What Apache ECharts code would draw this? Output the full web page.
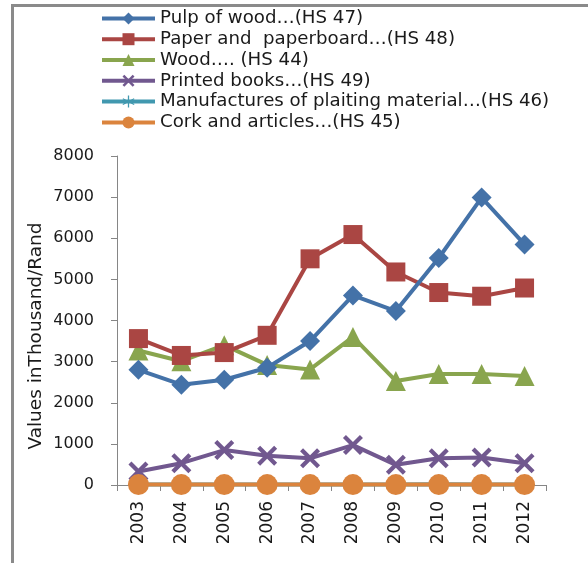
<!DOCTYPE html>
<html>
<head>
<meta charset="utf-8">
<script src="https://cdn.jsdelivr.net/npm/echarts@6/dist/echarts.min.js"></script>
<style>
html,body{margin:0;padding:0;background:#fff;}
#chart{width:588px;height:563px;}
</style>
</head>
<body>
<div id="chart"></div>
<script>
const years = ['2003','2004','2005','2006','2007','2008','2009','2010','2011','2012'];
const pulpOfWood = [2800, 2440, 2560, 2850, 3500, 4610, 4230, 5520, 6990, 5850];
const paperAndPaperboard = [3560, 3150, 3220, 3640, 5500, 6090, 5180, 4680, 4590, 4790];
const wood = [3270, 3010, 3400, 2920, 2810, 3600, 2530, 2700, 2700, 2650];
const printedBooks = [330, 530, 850, 710, 650, 970, 490, 650, 670, 530];
const plaitingMaterial = [10, 10, 10, 10, 10, 10, 10, 20, 10, 10];
const corkArticles = [10, 10, 10, 10, 10, 10, 10, 10, 10, 10];
const seriesNames = [
  'Pulp of wood\u2026(HS 47)',
  'Paper and  paperboard\u2026(HS 48)',
  'Wood\u2026. (HS 44)',
  'Printed books\u2026(HS 49)',
  'Manufactures of plaiting material\u2026(HS 46)',
  'Cork and articles\u2026(HS 45)'
];
const yTicks = [0, 1000, 2000, 3000, 4000, 5000, 6000, 7000, 8000];
const yTitle = 'Values inThousand/Rand';

const colors = ['#4472A8', '#AA4643', '#89A54E', '#71588F', '#4198AF', '#DB843D'];
const xPath = 'path://M0,1.5L1.5,0L5,3.5L8.5,0L10,1.5L6.5,5L10,8.5L8.5,10L5,6.5L1.5,10L0,8.5L3.5,5Z';
const starPath = 'path://M4.5,0L5.5,0L5.5,4.3L9.2,2.2L9.7,3L6,5L9.7,7L9.2,7.8L5.5,5.7L5.5,10L4.5,10L4.5,5.7L0.8,7.8L0.3,7L4,5L0.3,3L0.8,2.2L4.5,4.3Z';

const dataSets = [pulpOfWood, paperAndPaperboard, wood, printedBooks, plaitingMaterial, corkArticles];
const symbols = ['diamond', 'rect', 'triangle', xPath, starPath, 'circle'];
const sizes = [20, 19, 20, 20, 14, 21];
const FONT = 'DejaVu Sans';

const chart = echarts.init(document.getElementById('chart'));
chart.setOption({
  animation: false,
  backgroundColor: '#ffffff',
  color: colors,
  graphic: [{
    type: 'rect',
    shape: {x: 12.5, y: 5.5, width: 600, height: 600},
    style: {fill: 'none', stroke: '#8a8a8a', lineWidth: 3},
    silent: true,
    z: -10
  }, {
    type: 'text',
    x: 36,
    y: 336,
    rotation: Math.PI / 2,
    style: {text: yTitle, fontFamily: FONT, fontSize: 18.5, fill: '#1a1a1a', align: 'center', verticalAlign: 'middle'},
    silent: true
  }],
  legend: {
    orient: 'vertical',
    left: 100,
    top: 8,
    itemWidth: 53,
    itemHeight: 15,
    itemGap: 0,
    padding: 0,
    lineStyle: {width: 4},
    textStyle: {fontFamily: FONT, fontSize: 18.2, color: '#1a1a1a', lineHeight: 20.8, padding: [0, 0, 0, 0]},
    data: seriesNames
  },
  grid: {left: 117, right: 42, top: 156, bottom: 78, containLabel: false},
  xAxis: {
    type: 'category',
    data: years,
    boundaryGap: true,
    axisLine: {lineStyle: {color: '#868686', width: 1}},
    axisTick: {show: true, alignWithLabel: false, length: 6, lineStyle: {color: '#868686'}},
    axisLabel: {rotate: 90, fontFamily: FONT, fontSize: 17, color: '#1a1a1a', margin: 16, interval: 0},
    splitLine: {show: false}
  },
  yAxis: {
    type: 'value',
    min: 0,
    max: 8000,
    interval: 1000,
    axisLine: {show: true, lineStyle: {color: '#868686', width: 1}},
    axisTick: {show: true, length: 6, lineStyle: {color: '#868686'}},
    axisLabel: {fontFamily: FONT, fontSize: 16, color: '#1a1a1a', margin: 23,
      formatter: function (v) { return yTicks.indexOf(v) >= 0 ? String(v) : ''; }},
    splitLine: {show: false}
  },
  series: dataSets.map(function (d, i) {
    return {
      name: seriesNames[i],
      type: 'line',
      data: d,
      symbol: symbols[i],
      symbolSize: sizes[i],
      showAllSymbol: true,
      lineStyle: {width: 4, color: colors[i]},
      itemStyle: {color: colors[i]},
      z: i === 5 ? 10 : 5 - i
    };
  })
});
</script>
</body>
</html>
